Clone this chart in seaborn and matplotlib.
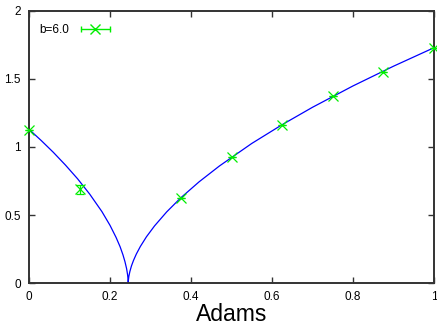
import matplotlib
matplotlib.use("Agg")
import matplotlib.pyplot as plt
import seaborn as sns
import pandas as pd
from matplotlib.lines import Line2D
from matplotlib.legend_handler import HandlerLine2D, HandlerTuple

# Theory curve
curve_x = [0.0, 0.03, 0.06, 0.09, 0.12, 0.15, 0.18, 0.20, 0.215, 0.225, 0.232,
           0.237, 0.241, 0.2435, 0.2447, 0.245,
           0.2453, 0.2465, 0.249, 0.253, 0.258, 0.265, 0.275, 0.29, 0.31, 0.34,
           0.375, 0.42, 0.47, 0.55, 0.625, 0.70, 0.80, 0.90, 1.0]
curve_y = [1.13, 1.048, 0.961, 0.867, 0.766, 0.653, 0.525, 0.424, 0.335, 0.266, 0.207,
           0.156, 0.105, 0.059, 0.023, 0.0,
           0.019, 0.048, 0.084, 0.126, 0.166, 0.213, 0.269, 0.340, 0.420, 0.523,
           0.627, 0.744, 0.860, 1.026, 1.164, 1.292, 1.449, 1.594, 1.730]

# Data points with error bars
pts_x = [0.0, 0.125, 0.375, 0.5, 0.625, 0.75, 0.875, 1.0]
pts_y = [1.127, 0.689, 0.628, 0.925, 1.165, 1.372, 1.553, 1.731]
pts_err = [0.0, 0.035, 0.0, 0.0, 0.0, 0.0, 0.0, 0.0]

legend_label = "b=6.0"
x_label = "Adams"
x_ticks = [0, 0.2, 0.4, 0.6, 0.8, 1]
x_ticklabels = ["0", "0.2", "0.4", "0.6", "0.8", "1"]
y_ticks = [0, 0.5, 1, 1.5, 2]
y_ticklabels = ["0", "0.5", "1", "1.5", "2"]

sns.set_style("ticks")
plt.rcParams['font.family'] = ['Liberation Sans', 'DejaVu Sans']
plt.rcParams['text.color'] = 'black'
plt.rcParams['axes.labelcolor'] = 'black'

fig = plt.figure(figsize=(4.37, 3.30), dpi=100)
ax = fig.add_axes([0.0664, 0.1424, 0.9267, 0.8243])

df_curve = pd.DataFrame({"x": curve_x, "y": curve_y})
sns.lineplot(data=df_curve, x="x", y="y", sort=False, color="#0000ff",
             linewidth=0.9, ax=ax, legend=False)

green = "#00ee00"
ax.errorbar(pts_x, pts_y, yerr=pts_err, fmt="x", color=green, ms=7, mew=0.9,
            elinewidth=0.9, capsize=3, capthick=0.9, zorder=5, clip_on=False)

ax.set_xlim(0, 1)
ax.set_ylim(0, 2)
ax.set_xticks(x_ticks)
ax.set_xticklabels(x_ticklabels)
ax.set_yticks(y_ticks)
ax.set_yticklabels(y_ticklabels)
ax.set_xlabel(x_label, fontsize=16.5, labelpad=0, color="black")
ax.set_ylabel("")

ax.tick_params(direction="in", length=4, width=1.0, colors="#333333",
               labelcolor="black", labelsize=8.5, top=True, right=True)
ax.tick_params(axis="x", pad=6)
ax.tick_params(axis="y", pad=6)
for s in ax.spines.values():
    s.set_visible(True)
    s.set_linewidth(1.4)
    s.set_color("#333333")

# legend: text first, handle with horizontal caps
caps = Line2D([], [], color=green, lw=1.0, marker="|", ms=5, mew=1.0)
mark = Line2D([], [], color=green, lw=0, marker="x", ms=7, mew=1.0)
leg = ax.legend([(caps, mark)], [legend_label], loc="upper left",
                frameon=False, markerfirst=False, fontsize=8.5,
                handlelength=3.0, handletextpad=0.7,
                bbox_to_anchor=(0.0, 0.99), borderaxespad=0.5,
                handler_map={caps: HandlerLine2D(numpoints=2),
                             mark: HandlerLine2D(numpoints=1),
                             tuple: HandlerTuple(ndivide=1, pad=0)})
for t in leg.get_texts():
    t.set_color("black")

fig.savefig("out.png", dpi=100)
